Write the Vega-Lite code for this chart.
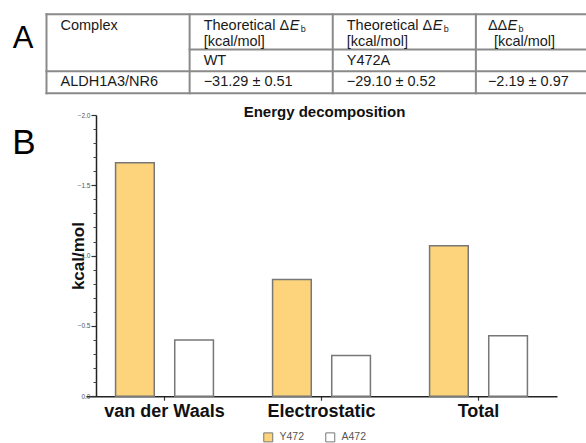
{
  "$schema": "https://vega.github.io/schema/vega-lite/v6.json",
  "width": 586,
  "height": 443,
  "padding": 0,
  "autosize": {"type": "none"},
  "background": "white",
  "config": {"font": "Liberation Sans", "view": {"stroke": null}},
  "datasets": {
    "bars": [
      {"component": "van der Waals", "residue": "Y472", "energy": -1.66},
      {"component": "van der Waals", "residue": "A472", "energy": -0.40},
      {"component": "Electrostatic", "residue": "Y472", "energy": -0.83},
      {"component": "Electrostatic", "residue": "A472", "energy": -0.29},
      {"component": "Total", "residue": "Y472", "energy": -1.07},
      {"component": "Total", "residue": "A472", "energy": -0.43}
    ],
    "gridlines": [
      {"col": 0, "col2": 4, "row": 0, "row2": 0},
      {"col": 1, "col2": 4, "row": 1.6, "row2": 1.6},
      {"col": 0, "col2": 4, "row": 2.6, "row2": 2.6},
      {"col": 0, "col2": 4, "row": 3.6, "row2": 3.6},
      {"col": 0, "col2": 0, "row": 0, "row2": 3.6},
      {"col": 1, "col2": 1, "row": 0, "row2": 3.6},
      {"col": 2, "col2": 2, "row": 0, "row2": 3.6},
      {"col": 3, "col2": 3, "row": 0, "row2": 3.6},
      {"col": 4, "col2": 4, "row": 0, "row2": 3.6}
    ],
    "cells": [
      {"col": 0, "row": 0.52, "text": "Complex"},
      {"col": 1, "row": 0.52, "text": "Theoretical Δ"},
      {"col": 2, "row": 0.52, "text": "Theoretical Δ"},
      {"col": 1, "row": 1.26, "text": "[kcal/mol]"},
      {"col": 2, "row": 1.26, "text": "[kcal/mol]"},
      {"col": 1, "row": 2.13, "text": "WT"},
      {"col": 2, "row": 2.13, "text": "Y472A"},
      {"col": 0, "row": 3.09, "text": "ALDH1A3/NR6"},
      {"col": 1, "row": 3.09, "text": "−31.29 ± 0.51"},
      {"col": 2, "row": 3.09, "text": "−29.10 ± 0.52"}
    ],
    "cells3": [
      {"col": 3, "row": 0.52, "text": "ΔΔ"},
      {"col": 3, "row": 3.09, "text": "−2.19 ± 0.97"}
    ],
    "unit3": [
      {"col": 3, "row": 1.26, "text": "[kcal/mol]"}
    ],
    "italicE": [
      {"col": 1, "row": 0.52, "text": "E"},
      {"col": 2, "row": 0.52, "text": "E"}
    ],
    "italicE3": [
      {"col": 3, "row": 0.52, "text": "E"}
    ],
    "subB": [
      {"col": 1, "row": 0.52, "text": "b"},
      {"col": 2, "row": 0.52, "text": "b"}
    ],
    "subB3": [
      {"col": 3, "row": 0.52, "text": "b"}
    ],
    "panels": [
      {"col": -0.164, "row": 1.13, "text": "A"},
      {"col": -0.157, "row": 5.87, "text": "B"}
    ]
  },
  "layer": [
    {
      "encoding": {
        "x": {"field": "col", "type": "quantitative", "scale": {"domain": [0, 4], "range": [46.5, 619], "nice": false, "zero": false}, "axis": null},
        "y": {"field": "row", "type": "quantitative", "scale": {"domain": [0, 3.6], "range": [14.3, 93.3], "nice": false, "zero": false}, "axis": null}
      },
      "layer": [
        {
          "data": {"name": "gridlines"},
          "mark": {"type": "rule", "color": "#8a8a8a", "strokeWidth": 2, "strokeCap": "square"},
          "encoding": {
            "x2": {"field": "col2"},
            "y2": {"field": "row2"}
          }
        },
        {
          "data": {"name": "cells"},
          "mark": {"type": "text", "align": "left", "baseline": "middle", "dx": 14, "fontSize": 14.5, "color": "#1a1a1a"},
          "encoding": {"text": {"field": "text"}}
        },
        {
          "data": {"name": "cells3"},
          "mark": {"type": "text", "align": "left", "baseline": "middle", "dx": 12, "fontSize": 14.5, "color": "#1a1a1a"},
          "encoding": {"text": {"field": "text"}}
        },
        {
          "data": {"name": "unit3"},
          "mark": {"type": "text", "align": "left", "baseline": "middle", "dx": 18, "fontSize": 14.5, "color": "#1a1a1a"},
          "encoding": {"text": {"field": "text"}}
        },
        {
          "data": {"name": "italicE"},
          "mark": {"type": "text", "align": "left", "baseline": "middle", "dx": 100, "fontSize": 14.5, "fontStyle": "italic", "color": "#1a1a1a"},
          "encoding": {"text": {"field": "text"}}
        },
        {
          "data": {"name": "italicE3"},
          "mark": {"type": "text", "align": "left", "baseline": "middle", "dx": 31.5, "fontSize": 14.5, "fontStyle": "italic", "color": "#1a1a1a"},
          "encoding": {"text": {"field": "text"}}
        },
        {
          "data": {"name": "subB"},
          "mark": {"type": "text", "align": "left", "baseline": "middle", "dx": 111, "dy": 3, "fontSize": 9, "color": "#1a1a1a"},
          "encoding": {"text": {"field": "text"}}
        },
        {
          "data": {"name": "subB3"},
          "mark": {"type": "text", "align": "left", "baseline": "middle", "dx": 42.5, "dy": 3, "fontSize": 9, "color": "#1a1a1a"},
          "encoding": {"text": {"field": "text"}}
        },
        {
          "data": {"name": "panels"},
          "transform": [{"filter": "datum.text === 'A'"}],
          "mark": {"type": "text", "align": "center", "baseline": "middle", "fontSize": 31, "color": "#000"},
          "encoding": {"text": {"field": "text"}}
        },
        {
          "data": {"name": "panels"},
          "transform": [{"filter": "datum.text === 'B'"}],
          "mark": {"type": "text", "align": "center", "baseline": "middle", "fontSize": 35, "color": "#000"},
          "encoding": {"text": {"field": "text"}}
        }
      ]
    },
    {
      "layer": [
        {
          "data": {"name": "bars"},
          "mark": {"type": "bar", "stroke": "#777", "strokeWidth": 1.5},
          "encoding": {
            "x": {
              "field": "component", "type": "nominal",
              "scale": {"domain": ["van der Waals", "Electrostatic", "Total"], "range": [86, 557], "paddingInner": 0, "paddingOuter": 0},
              "axis": {
                "orient": "bottom", "offset": -46.8, "title": null,
                "labelFontSize": 18, "labelFontWeight": "bold", "labelColor": "#111", "labelAngle": 0,
                "labelPadding": 2, "ticks": true, "tickSize": 4, "tickWidth": 1.2, "tickColor": "#333", "domainColor": "#222", "domainWidth": 1.5
              }
            },
            "xOffset": {
              "field": "residue", "type": "nominal",
              "scale": {"domain": ["Y472", "A472"], "paddingInner": 0.346, "paddingOuter": 0.5}
            },
            "y": {
              "field": "energy", "type": "quantitative",
              "scale": {"domain": [-2, 0], "range": [115, 396.2], "nice": false},
              "axis": {
                "orient": "left", "offset": -96,
                "values": [-2, -1.5, -1, -0.5, 0],
                "format": ".1f",
                "labelOverlap": false,
                "ticks": true, "tickSize": 5, "tickWidth": 1.2, "tickColor": "#333",
                "labelFontSize": 6.5, "labelColor": "#555", "labelPadding": 1,
                "domainColor": "#222", "domainWidth": 1.5, "grid": false,
                "title": "kcal/mol", "titleFontSize": 17, "titleFontWeight": "bold", "titleColor": "#111",
                "titleX": -18, "titleY": 255.6, "titleAngle": -90, "titleAlign": "center", "titleBaseline": "middle"
              }
            },
            "fill": {
              "field": "residue", "type": "nominal",
              "scale": {"domain": ["Y472", "A472"], "range": ["#FDD47B", "#FFFFFF"]},
              "legend": {
                "orient": "none", "legendX": 263, "legendY": 432, "direction": "horizontal", "title": null,
                "symbolType": "square", "symbolSize": 81, "symbolStrokeColor": "#777", "symbolStrokeWidth": 1,
                "labelFontSize": 10.5, "labelColor": "#555", "labelOffset": 6, "columnPadding": 18, "padding": 0
              }
            }
          }
        },
        {
          "data": {"values": [{"label": "Energy decomposition"}]},
          "mark": {"type": "text", "fontSize": 15, "fontWeight": "bold", "color": "#111", "baseline": "middle", "align": "center", "dx": 3},
          "encoding": {
            "x": {"datum": "Electrostatic", "type": "nominal"},
            "y": {
              "datum": -2.02, "type": "quantitative",
              "axis": {
                "orient": "left", "offset": -96,
                "values": [-1.9, -1.8, -1.7, -1.6, -1.4, -1.3, -1.2, -1.1, -0.9, -0.8, -0.7, -0.6, -0.4, -0.3, -0.2, -0.1],
                "labels": false, "domain": false, "grid": false, "title": null,
                "ticks": true, "tickSize": 3, "tickWidth": 1, "tickColor": "#444"
              }
            },
            "text": {"field": "label"}
          }
        }
      ],
      "resolve": {"axis": {"y": "independent"}}
    }
  ],
  "resolve": {"scale": {"x": "independent", "y": "independent"}}
}
